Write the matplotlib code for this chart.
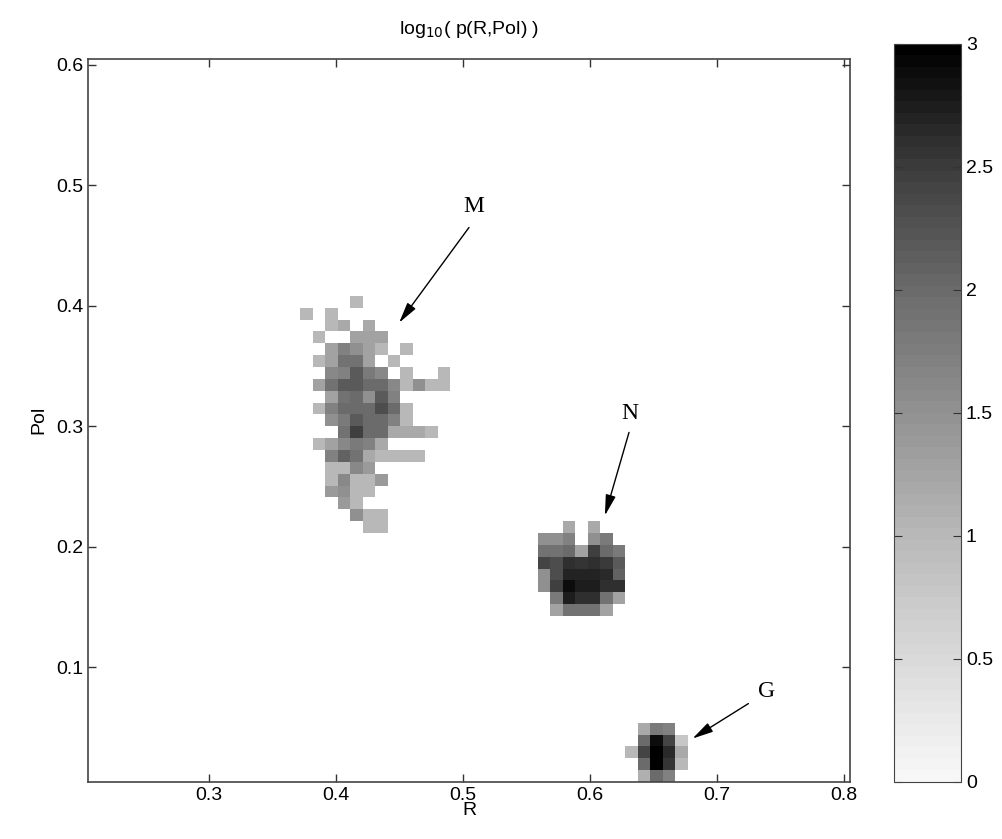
import numpy as np
import matplotlib.pyplot as plt
from matplotlib.colors import LinearSegmentedColormap

# bin grid of the 2-D histogram (61 x 61 bins)
R_edges = np.linspace(0.205, 0.805, 62)
Pol_edges = np.linspace(0.005, 0.605, 62)

# log10 values per cluster, rows listed top -> bottom, 0 = empty bin
# anchor = (first R bin, top Pol bin)
M_anchor = (17, 40)
M_vals = [
    [0, 0, 0, 0, 1.0, 0, 0, 0, 0, 0, 0, 0],
    [1.0, 0, 1.0, 0, 0, 0, 0, 0, 0, 0, 0, 0],
    [0, 0, 1.0, 1.2, 0, 1.2, 0, 0, 0, 0, 0, 0],
    [0, 1.0, 0, 0, 1.3, 1.3, 1.3, 0, 0, 0, 0, 0],
    [0, 0, 1.3, 1.7, 1.5, 1.3, 1.0, 0, 1.0, 0, 0, 0],
    [0, 1.0, 1.3, 1.9, 1.9, 1.3, 0, 1.0, 0, 0, 0, 0],
    [0, 0, 1.6, 1.7, 2.2, 1.8, 1.6, 0, 1.0, 0, 0, 1.0],
    [0, 1.3, 1.9, 2.2, 2.2, 2.0, 2.0, 1.6, 1.0, 1.5, 1.0, 1.0],
    [0, 0, 1.3, 1.9, 2.0, 1.5, 2.2, 1.7, 0, 0, 0, 0],
    [0, 1.0, 1.7, 2.0, 2.0, 2.0, 2.3, 2.0, 1.0, 0, 0, 0],
    [0, 0, 1.5, 1.8, 2.2, 2.0, 2.0, 1.7, 1.0, 0, 0, 0],
    [0, 0, 0, 1.9, 2.45, 2.0, 2.0, 1.2, 1.2, 1.2, 1.0, 0],
    [0, 1.0, 1.3, 1.6, 1.8, 1.7, 1.2, 0, 0, 0, 0, 0],
    [0, 0, 1.7, 2.1, 1.9, 1.2, 1.0, 1.0, 1.0, 1.0, 0, 0],
    [0, 0, 1.0, 1.0, 1.6, 1.4, 0, 0, 0, 0, 0, 0],
    [0, 0, 1.0, 1.6, 1.0, 1.0, 1.4, 0, 0, 0, 0, 0],
    [0, 0, 1.4, 1.5, 1.0, 1.0, 0, 0, 0, 0, 0, 0],
    [0, 0, 0, 1.4, 1.0, 0, 0, 0, 0, 0, 0, 0],
    [0, 0, 0, 0, 1.5, 1.0, 1.0, 0, 0, 0, 0, 0],
    [0, 0, 0, 0, 0, 1.0, 1.0, 0, 0, 0, 0, 0],
]

N_anchor = (36, 21)
N_vals = [
    [0, 0, 1.2, 0, 1.2, 0, 0],
    [1.5, 1.5, 1.7, 0, 1.5, 1.8, 0],
    [1.9, 1.9, 2.0, 1.3, 2.45, 2.0, 1.8],
    [2.4, 2.3, 2.6, 2.55, 2.6, 2.5, 2.2],
    [1.5, 2.3, 2.7, 2.7, 2.7, 2.65, 2.1],
    [1.5, 2.45, 2.9, 2.75, 2.75, 2.6, 2.6],
    [0, 1.8, 2.75, 2.6, 2.6, 1.9, 1.3],
    [0, 1.3, 1.9, 1.9, 1.9, 1.3, 0],
]

G_anchor = (43, 4)
G_vals = [
    [0, 1.2, 1.8, 1.7, 0],
    [0, 2.0, 2.9, 2.4, 0.75],
    [1.0, 2.4, 3.0, 2.65, 1.2],
    [0, 2.0, 3.0, 2.55, 1.0],
    [0, 1.1, 2.0, 1.7, 0],
]

labels = ['M', 'N', 'G']
label_xy = [(0.509, 0.482), (0.632, 0.311), (0.739, 0.080)]
arrow_tail = [(0.505, 0.465), (0.631, 0.295), (0.725, 0.070)]
arrow_tip = [(0.450, 0.386), (0.612, 0.226), (0.681, 0.041)]

# fill the histogram
H = np.full((61, 61), np.nan)
for (c0, r_top), vals in [(M_anchor, M_vals), (N_anchor, N_vals), (G_anchor, G_vals)]:
    for k, row in enumerate(vals):
        for m, v in enumerate(row):
            if v > 0:
                H[r_top - k, c0 + m] = v

# grey map close to the picture, 64 steps like matlab
pts = [(0, 0.97), (0.5 / 3, 0.85), (1 / 3, 0.72), (1.5 / 3, 0.57),
       (2 / 3, 0.42), (2.5 / 3, 0.24), (1.0, 0.0)]
cdict = {c: [(p, g, g) for p, g in pts] for c in ('red', 'green', 'blue')}
cmap = LinearSegmentedColormap('grey', cdict, N=64)
cmap.set_bad('white')

plt.rcParams['font.family'] = 'Liberation Sans'
plt.rcParams['font.size'] = 14

fig = plt.figure(figsize=(10.02, 8.39), dpi=100)
ax = fig.add_axes([0.0878, 0.068, 0.7605, 0.862])
mesh = ax.pcolormesh(R_edges, Pol_edges, np.ma.masked_invalid(H), cmap=cmap, vmin=0, vmax=3)
ax.set_xlim(0.205, 0.805)
ax.set_ylim(0.005, 0.605)
ax.set_xticks([0.3, 0.4, 0.5, 0.6, 0.7, 0.8])
ax.set_yticks([0.1, 0.2, 0.3, 0.4, 0.5, 0.6])
ax.set_xticklabels(['0.3', '0.4', '0.5', '0.6', '0.7', '0.8'])
ax.set_yticklabels(['0.1', '0.2', '0.3', '0.4', '0.5', '0.6'])
ax.tick_params(direction='in', top=True, right=True, length=6, width=1, color='#333333')
for s in ax.spines.values():
    s.set_color('#444444')
    s.set_linewidth(1.2)
ax.set_xlabel('R', labelpad=-1)
ax.set_ylabel('Pol', labelpad=6)
ax.set_title(r'log$_{10}$( p(R,Pol) )', fontsize=14, pad=18)

for lab, xy, tail, tip in zip(labels, label_xy, arrow_tail, arrow_tip):
    ax.annotate('', xy=tip, xytext=tail,
                arrowprops=dict(arrowstyle='-|>,head_length=0.9,head_width=0.22',
                                color='black', lw=1, mutation_scale=14, shrinkA=0, shrinkB=0))
    ax.text(xy[0], xy[1], lab, family='Liberation Serif', fontsize=17, ha='center', va='center')

cax = fig.add_axes([0.892, 0.068, 0.067, 0.880])
cb = fig.colorbar(mesh, cax=cax, ticks=[0, 0.5, 1, 1.5, 2, 2.5, 3])
cb.ax.set_yticklabels(['0', '0.5', '1', '1.5', '2', '2.5', '3'])
cb.ax.tick_params(direction='in', length=6, left=True, right=True, color='#333333')
cb.outline.set_edgecolor('#444444')

fig.savefig('out.png', dpi=100)
